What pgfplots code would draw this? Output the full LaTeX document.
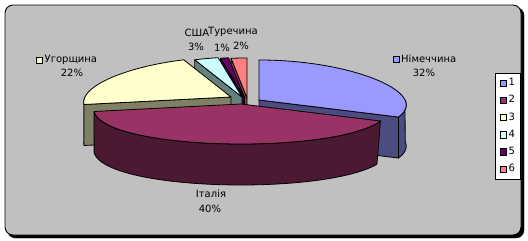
\documentclass[border=0pt]{standalone}
\usepackage{pgfplots}
\pgfplotsset{compat=1.18}
\usepackage{fontspec}
\setmainfont{DejaVu Sans}
\definecolor{bg}{HTML}{C0C0C0}
\definecolor{gerT}{HTML}{9999FF}\definecolor{gerS}{HTML}{4C4C80}
\definecolor{itaT}{HTML}{993366}\definecolor{itaS}{HTML}{4C1933}
\definecolor{hunT}{HTML}{FFFFCC}\definecolor{hunS}{HTML}{808066}
\definecolor{usaT}{HTML}{CCFFFF}\definecolor{usaS}{HTML}{668080}
\definecolor{fivT}{HTML}{660066}\definecolor{fivS}{HTML}{330033}
\definecolor{turT}{HTML}{FF8080}\definecolor{turS}{HTML}{804040}
% shape constants (pixels)
\def\RX{146}\def\RY{40}\def\K{0.13}\def\D{41}
% data: shares in percent
\def\vGer{32}\def\vIta{40}\def\vHun{22}\def\vUSA{3}\def\vFiv{1}\def\vTur{2}
\pgfmathsetmacro\aA{90}
\pgfmathsetmacro\aB{\aA-3.6*\vGer}
\pgfmathsetmacro\aC{\aB-3.6*\vIta}
\pgfmathsetmacro\aD{\aC-3.6*\vHun}
\pgfmathsetmacro\aE{\aD-3.6*\vUSA}
\pgfmathsetmacro\aF{\aE-3.6*\vFiv}
\pgfmathsetmacro\aG{\aF-3.6*\vTur}
% top face: #1 low angle, #2 high angle, #3 cx, #4 cy, #5 colour
\newcommand{\topface}[5]{%
 \addplot[draw=black, fill=#5, line width=0.8pt, line join=round, domain=#1:#2, samples=60]
  ({#3+\RX*cos(x)*(1-\K*sin(x))}, {#4-\RY*sin(x)}) -- (axis cs:#3,#4) -- cycle;}
% outer side between #1 and #2
\newcommand{\outerside}[5]{%
 \addplot[draw=black, fill=#5, line width=0.8pt, line join=round, domain={#1}:{2*(#2)-(#1)}, samples=81]
  ({#3+\RX*cos(x<=(#2) ? x : 2*(#2)-x)*(1-\K*sin(x<=(#2) ? x : 2*(#2)-x))},
   {#4-\RY*sin(x<=(#2) ? x : 2*(#2)-x)+(x<=(#2) ? 0 : \D)}) -- cycle;}
% radial face at angle #1
\newcommand{\radial}[4]{%
 \addplot[draw=black, fill=#4, line width=0.8pt, line join=round, domain=0:3, samples=4]
  ({#2+((x>0.5 && x<2.5) ? \RX*cos(#1)*(1-\K*sin(#1)) : 0)},
   {#3+((x>0.5 && x<2.5) ? -\RY*sin(#1) : 0)+(x>1.5 ? \D : 0)}) -- cycle;}
\tikzset{lbl/.style={font=\fontsize{10}{12}\selectfont, inner sep=0pt}}
\begin{document}
\begin{tikzpicture}
\begin{axis}[scale only axis, width=528pt, height=241pt,
  xmin=0, xmax=528, ymin=0, ymax=241, y dir=reverse, hide axis, clip=false]
\addplot[draw=none, fill=white] coordinates {(0,0) (528,0) (528,241) (0,241)} -- cycle;
\draw[fill=black, draw=black, rounded corners=8pt] (axis cs:7.5,7.5) rectangle (axis cs:524,238);
\draw[fill=bg, draw=black, line width=0.9pt, rounded corners=8pt] (axis cs:5,5) rectangle (axis cs:521,235);
% slice 6 (Turkey)
\radial{\aF}{247}{98}{turS}
\topface{\aG}{\aF}{247}{98}{turT}
% slice 5
\radial{\aE}{244.5}{97.5}{fivS}
\topface{\aF}{\aE}{244.5}{97.5}{fivT}
% slice 4 (USA)
\radial{\aD}{242}{97}{usaS}
\topface{\aE}{\aD}{242}{97}{usaT}
% slice 3 (Hungary)
\outerside{-180}{\aC}{231}{97}{hunS}
\radial{\aC}{231}{97}{hunS}
\topface{\aD}{\aC}{231}{97}{hunT}
% slice 1 (Germany)
\outerside{\aB}{0}{259}{100}{gerS}
\radial{\aB}{259}{100}{gerS}
\topface{\aB}{\aA}{259}{100}{gerT}
% slice 2 (Italy)
\outerside{\aC}{\aB}{241}{104}{itaS}
\topface{\aC}{\aB}{241}{104}{itaT}
% data labels
\addplot[only marks, mark=square*, mark size=3pt, mark options={fill=gerT, draw=black, line width=0.6pt}] coordinates {(396,59)};
\node[lbl, anchor=west] at (axis cs:401,59) {Німеччина};
\node[lbl] at (axis cs:424,73) {32\%};
\addplot[only marks, mark=square*, mark size=3pt, mark options={fill=hunT, draw=black, line width=0.6pt}] coordinates {(39.5,60)};
\node[lbl, anchor=west] at (axis cs:44.5,60) {Угорщина};
\node[lbl] at (axis cs:72,73) {22\%};
\node[lbl] at (axis cs:197,33) {США};
\node[lbl] at (axis cs:196,47) {3\%};
\node[lbl] at (axis cs:233,32) {Туречина};
\node[lbl] at (axis cs:222,48) {1\%};
\node[lbl] at (axis cs:241,46) {2\%};
\node[lbl] at (axis cs:211,194) {Італія};
\node[lbl] at (axis cs:210,209) {40\%};
% legend
\draw[fill=white, draw=black, line width=0.8pt] (axis cs:495,73) rectangle (axis cs:520,179);
\addplot[only marks, mark=square*, mark size=3.2pt, mark options={fill=gerT, draw=black, line width=0.6pt}] coordinates {(503,83)};
\addplot[only marks, mark=square*, mark size=3.2pt, mark options={fill=itaT, draw=black, line width=0.6pt}] coordinates {(503,100.2)};
\addplot[only marks, mark=square*, mark size=3.2pt, mark options={fill=hunT, draw=black, line width=0.6pt}] coordinates {(503,117.4)};
\addplot[only marks, mark=square*, mark size=3.2pt, mark options={fill=usaT, draw=black, line width=0.6pt}] coordinates {(503,134.6)};
\addplot[only marks, mark=square*, mark size=3.2pt, mark options={fill=fivT, draw=black, line width=0.6pt}] coordinates {(503,151.8)};
\addplot[only marks, mark=square*, mark size=3.2pt, mark options={fill=turT, draw=black, line width=0.6pt}] coordinates {(503,169)};
\node[lbl, anchor=west] at (axis cs:508.5,82) {1};
\node[lbl, anchor=west] at (axis cs:508.5,99.2) {2};
\node[lbl, anchor=west] at (axis cs:508.5,116.4) {3};
\node[lbl, anchor=west] at (axis cs:508.5,133.6) {4};
\node[lbl, anchor=west] at (axis cs:508.5,150.8) {5};
\node[lbl, anchor=west] at (axis cs:508.5,168) {6};
\end{axis}
\end{tikzpicture}
\end{document}
